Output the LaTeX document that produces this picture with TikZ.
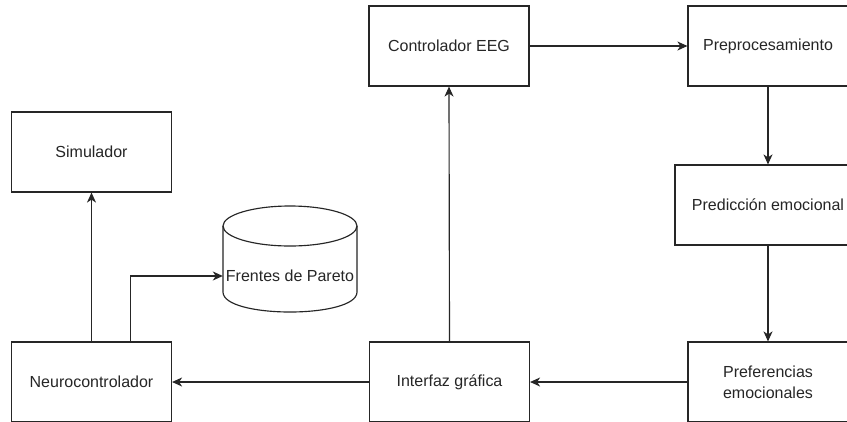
\documentclass[tikz,border=0pt]{standalone}
\usepackage{fontspec}
\setmainfont{Liberation Sans}
\usetikzlibrary{arrows.meta}
\begin{document}
\begin{tikzpicture}[x=1pt,y=-1pt,
  every node/.style={font=\fontsize{16}{21}\selectfont, text=black!85},
  block/.style={draw=black!85, line width=1.15pt, rectangle, minimum width=160pt, minimum height=80pt, inner sep=0pt, align=center},
  link/.style={draw=black!85, line width=1.15pt, -{Stealth[length=10pt,width=9pt,inset=3pt]}},
  plain/.style={draw=black!85, line width=1.15pt}
]
% page area
\path[use as bounding box, fill=white] (0,0) rectangle (847,421);
\clip (0,0) rectangle (847,421);

% blocks
\node[block] (sim)   at (91.5,152) {Simulador};
\node[block] (neuro) at (91.5,382) {Neurocontrolador};
\node[block] (gui)   at (449.5,382) {Interfaz gráfica};
\node[block] (eeg)   at (449,46) {Controlador EEG};
\node[block] (prep)  at (768,46) {Preprocesamiento};
\node[block, minimum width=186pt] (pred) at (768,205) {Predicción emocional};
\node[block] (pref)  at (768,382) {Preferencias\\emocionales};

% data store
\draw[plain] (223,226) -- (223,292) .. controls (223,318.67) and (357,318.67) .. (357,292) -- (357,226);
\draw[plain] (290,226) ellipse [x radius=67, y radius=20];
\node[minimum width=134pt, inner sep=0pt] (pareto) at (290,276) {Frentes de Pareto};

% connectors
\draw[link] (neuro.north) -- (sim.south);
\draw[link] ([xshift=39.2pt]neuro.north) |- (pareto.west);
\draw[link] (gui.north) -- (eeg.south);
\draw[link] (eeg.east) -- (prep.west);
\draw[link] (prep.south) -- (pred.north);
\draw[link] (pred.south) -- (pref.north);
\draw[link] (pref.west) -- (gui.east);
\draw[link] (gui.west) -- (neuro.east);
\end{tikzpicture}
\end{document}
